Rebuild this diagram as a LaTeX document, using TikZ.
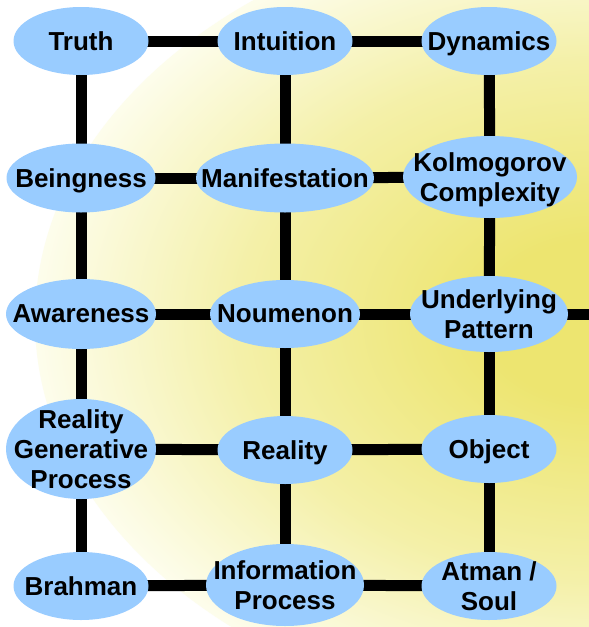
\documentclass[tikz,border=0pt]{standalone}
\usepackage{fontspec}
\setmainfont{Liberation Sans}
\usetikzlibrary{shapes.geometric,backgrounds}
\definecolor{blobfill}{RGB}{153,204,255}
\definecolor{glowin}{RGB}{237,229,112}
\definecolor{glowmid}{RGB}{244,240,168}
\definecolor{glowout}{RGB}{253,253,236}
\pgfdeclareradialshading{glowshade}{\pgfpoint{0bp}{0bp}}{color(0bp)=(glowin); color(5bp)=(glowin); color(16bp)=(glowmid); color(25bp)=(glowout); color(50bp)=(glowout)}
\begin{document}
\begin{tikzpicture}[x=1pt,y=-1pt,
  blobnode/.style={ellipse, fill=blobfill, draw=none, inner sep=0pt},
  lbl/.style={font=\bfseries\fontsize{26}{30}\selectfont, align=center, inner sep=0pt, text=black, text depth=0pt},
  link/.style={line width=11pt, draw=black}]
\useasboundingbox (0,0) rectangle (589,627);
\begin{pgfonlayer}{background}
  \begin{scope}
    \clip (0,0) rectangle (589,627);
    \fill[white] (0,0) rectangle (589,627);
    \shade[shading=glowshade] (600,320) ellipse (565pt and 405pt);
  \end{scope}
\end{pgfonlayer}
% ellipses
\node[blobnode, minimum width=135pt, minimum height=68pt] (truth) at (81,41) {};
\node[blobnode, minimum width=135pt, minimum height=68pt] (intuition) at (285,41) {};
\node[blobnode, minimum width=135pt, minimum height=68pt] (dynamics) at (489,41) {};
\node[blobnode, minimum width=149pt, minimum height=69pt] (being) at (81,178) {};
\node[blobnode, minimum width=178pt, minimum height=69pt] (manif) at (285,178) {};
\node[blobnode, minimum width=174pt, minimum height=82pt] (kolmo) at (490,177) {};
\node[blobnode, minimum width=150pt, minimum height=70pt] (aware) at (81,314) {};
\node[blobnode, minimum width=150pt, minimum height=68pt] (noumen) at (285,314) {};
\node[blobnode, minimum width=158pt, minimum height=76pt] (under) at (489,314) {};
\node[blobnode, minimum width=150pt, minimum height=100pt] (rgp) at (81,449) {};
\node[blobnode, minimum width=135pt, minimum height=68pt] (reality) at (285,450) {};
\node[blobnode, minimum width=135pt, minimum height=68pt] (object) at (489,449) {};
\node[blobnode, minimum width=135pt, minimum height=68pt] (brahman) at (81,586) {};
\node[blobnode, minimum width=158pt, minimum height=82pt] (info) at (285,585) {};
\node[blobnode, minimum width=135pt, minimum height=68pt] (atman) at (489,586) {};
\coordinate (rightend) at (589,314);
% labels
\node[lbl] (truthtext) at (truth) {Truth};
\node[lbl] (intuitiontext) at (intuition) {Intuition};
\node[lbl] (dynamicstext) at (dynamics) {Dynamics};
\node[lbl] (beingtext) at (being) {Beingness};
\node[lbl] (maniftext) at (manif) {Manifestation};
\node[lbl] (kolmotext) at (kolmo) {Kolmogorov\\Complexity};
\node[lbl] (awaretext) at (aware) {Awareness};
\node[lbl] (noumentext) at (noumen) {Noumenon};
\node[lbl] (undertext) at (under) {Underlying\\Pattern};
\node[lbl] (rgptext) at (rgp) {Reality\\Generative\\Process};
\node[lbl] (realitytext) at (reality) {Reality};
\node[lbl] (objecttext) at (object) {Object};
\node[lbl] (brahmantext) at (brahman) {Brahman};
\node[lbl] (infotext) at (info) {Information\\Process};
\node[lbl] (atmantext) at (atman) {Atman /\\Soul};
% connectors
\begin{pgfonlayer}{background}
  \draw[link] (truth.center) -- (intuition.center);
  \draw[link] (intuition.center) -- (dynamics.center);
  \draw[link] (truth.center) -- (being.center);
  \draw[link] (intuition.center) -- (manif.center);
  \draw[link] (dynamics.center) -- (kolmo.center);
  \draw[link] (being.center) -- (manif.center);
  \draw[link] (manif.center) -- (kolmo.center);
  \draw[link] (being.center) -- (aware.center);
  \draw[link] (manif.center) -- (noumen.center);
  \draw[link] (kolmo.center) -- (under.center);
  \draw[link] (aware.center) -- (noumen.center);
  \draw[link] (noumen.center) -- (under.center);
  \draw[link] (under.center) -- (rightend);
  \draw[link] (aware.center) -- (rgp.center);
  \draw[link] (noumen.center) -- (reality.center);
  \draw[link] (under.center) -- (object.center);
  \draw[link] (rgp.center) -- (reality.center);
  \draw[link] (reality.center) -- (object.center);
  \draw[link] (rgp.center) -- (brahman.center);
  \draw[link] (reality.center) -- (info.center);
  \draw[link] (object.center) -- (atman.center);
  \draw[link] (brahman.center) -- (info.center);
  \draw[link] (info.center) -- (atman.center);
\end{pgfonlayer}
\end{tikzpicture}
\end{document}
